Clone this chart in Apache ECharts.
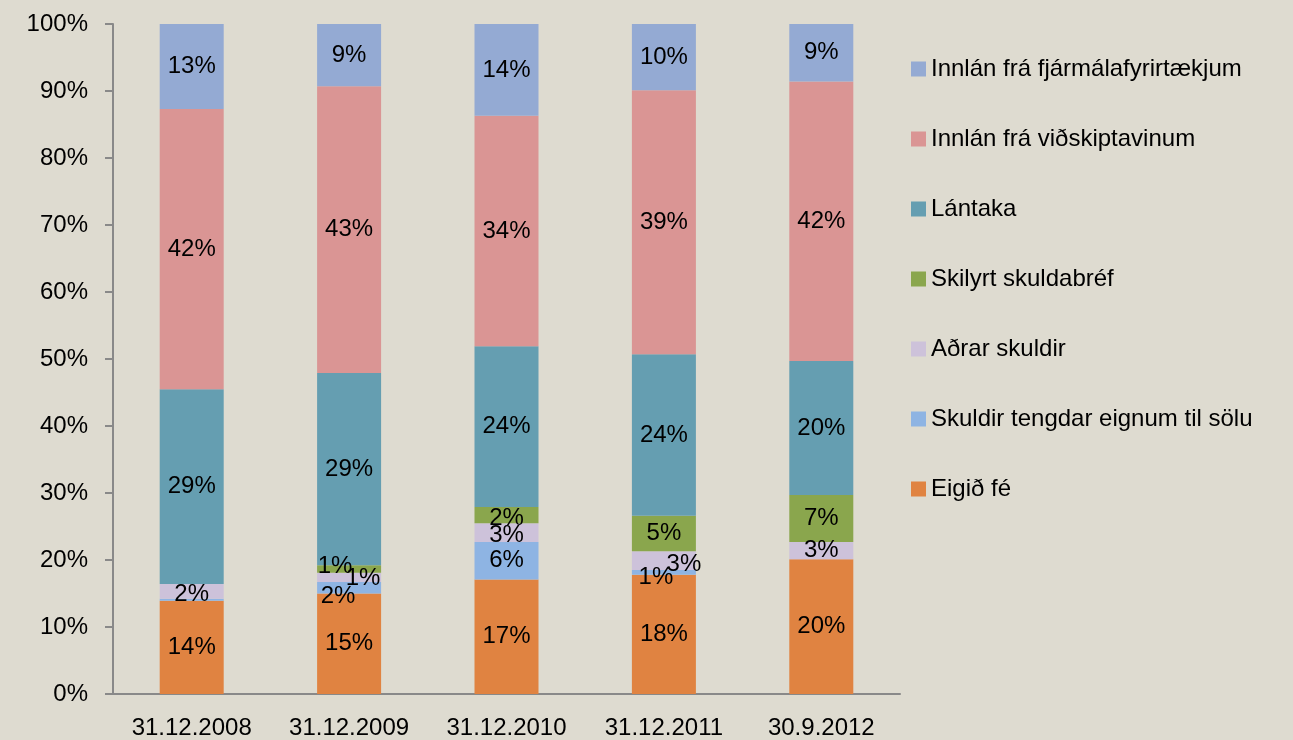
<!DOCTYPE html>
<html>
<head>
<meta charset="utf-8">
<script src="https://cdn.jsdelivr.net/npm/echarts@6/dist/echarts.min.js"></script>
<style>
  html, body { margin: 0; padding: 0; background: #dedbd0; }
  #chart { width: 1293px; height: 740px; }
</style>
</head>
<body>
<div id="chart"></div>
<script>
  // dagsetningar
  const categories = ['31.12.2008', '31.12.2009', '31.12.2010', '31.12.2011', '30.9.2012'];

  // hlutfall af heild (%), neðst upp
  const eigidFe        = [13.9, 15.0, 17.1, 17.8, 20.1];
  const skuldirTilSolu = [0.3, 1.7, 5.6, 0.7, 0];
  const adrarSkuldir   = [2.2, 1.4, 2.8, 2.8, 2.6];
  const skilyrt        = [0, 1.1, 2.4, 5.3, 7.0];
  const lantaka        = [29.1, 28.7, 24.0, 24.1, 20.0];
  const innlanVidsk    = [41.8, 42.8, 34.4, 39.4, 41.7];
  const innlanFjarm    = [12.7, 9.3, 13.7, 9.9, 8.6];

  const yTicks = [0, 10, 20, 30, 40, 50, 60, 70, 80, 90, 100];

  const seriesDefs = [
    { name: 'Eigið fé', data: eigidFe, color: '#e08341' },
    { name: 'Skuldir tengdar eignum til sölu', data: skuldirTilSolu, color: '#8eb4e3' },
    { name: 'Aðrar skuldir', data: adrarSkuldir, color: '#cdc2da' },
    { name: 'Skilyrt skuldabréf', data: skilyrt, color: '#8aa64d' },
    { name: 'Lántaka', data: lantaka, color: '#659eb1' },
    { name: 'Innlán frá viðskiptavinum', data: innlanVidsk, color: '#da9594' },
    { name: 'Innlán frá fjármálafyrirtækjum', data: innlanFjarm, color: '#94aad3' }
  ];

  // smá tilfærsla á merkjum þar sem sneiðar eru þunnar (eins og í Excel)
  const labelNudge = {
    '1-1': [-11, 9], '2-1': [14, 1], '3-1': [-14, -3],
    '2-0': [0, 3],
    '2-2': [0, 3], '3-2': [0, 3],
    '1-3': [-8, 5], '2-3': [20, 4]
  };

  const font = '"Liberation Sans", Arial, sans-serif';
  const fs = 24;

  const chart = echarts.init(document.getElementById('chart'));
  chart.setOption({
    backgroundColor: '#dedbd0',
    animation: false,
    grid: { left: 113, right: 393, top: 24, bottom: 46 },
    legend: {
      orient: 'vertical',
      left: 911,
      top: 57,
      padding: 0,
      itemWidth: 15,
      itemHeight: 15,
      itemGap: 46,
      icon: 'rect',
      textStyle: { fontFamily: font, fontSize: fs, color: '#000' },
      data: seriesDefs.map(s => s.name).reverse()
    },
    xAxis: {
      type: 'category',
      data: categories,
      axisLine: { lineStyle: { color: '#898989', width: 2 } },
      axisTick: { length: 8, lineStyle: { color: '#898989', width: 2 } },
      axisLabel: { fontFamily: font, fontSize: fs, color: '#000', margin: 22 }
    },
    yAxis: {
      type: 'value',
      min: 0,
      max: 100,
      interval: 10,
      splitLine: { show: false },
      axisLine: { show: true, lineStyle: { color: '#898989', width: 2 } },
      axisTick: { show: true, length: 8, lineStyle: { color: '#898989', width: 2 } },
      axisLabel: {
        fontFamily: font, fontSize: fs, color: '#000', margin: 25,
        formatter: v => yTicks.includes(v) ? v + '%' : ''
      }
    },
    series: seriesDefs.map((s, si) => ({
      name: s.name,
      type: 'bar',
      stack: 'total',
      barWidth: 64,
      data: s.data.map((v, ci) => {
        const nudge = labelNudge[si + '-' + ci];
        return nudge ? { value: v, label: { offset: nudge } } : v;
      }),
      itemStyle: { color: s.color },
      label: {
        show: true,
        position: 'inside',
        fontFamily: font,
        fontSize: fs,
        color: '#000',
        formatter: p => Math.round(p.value) > 0 ? Math.round(p.value) + '%' : ''
      }
    }))
  });
</script>
</body>
</html>
